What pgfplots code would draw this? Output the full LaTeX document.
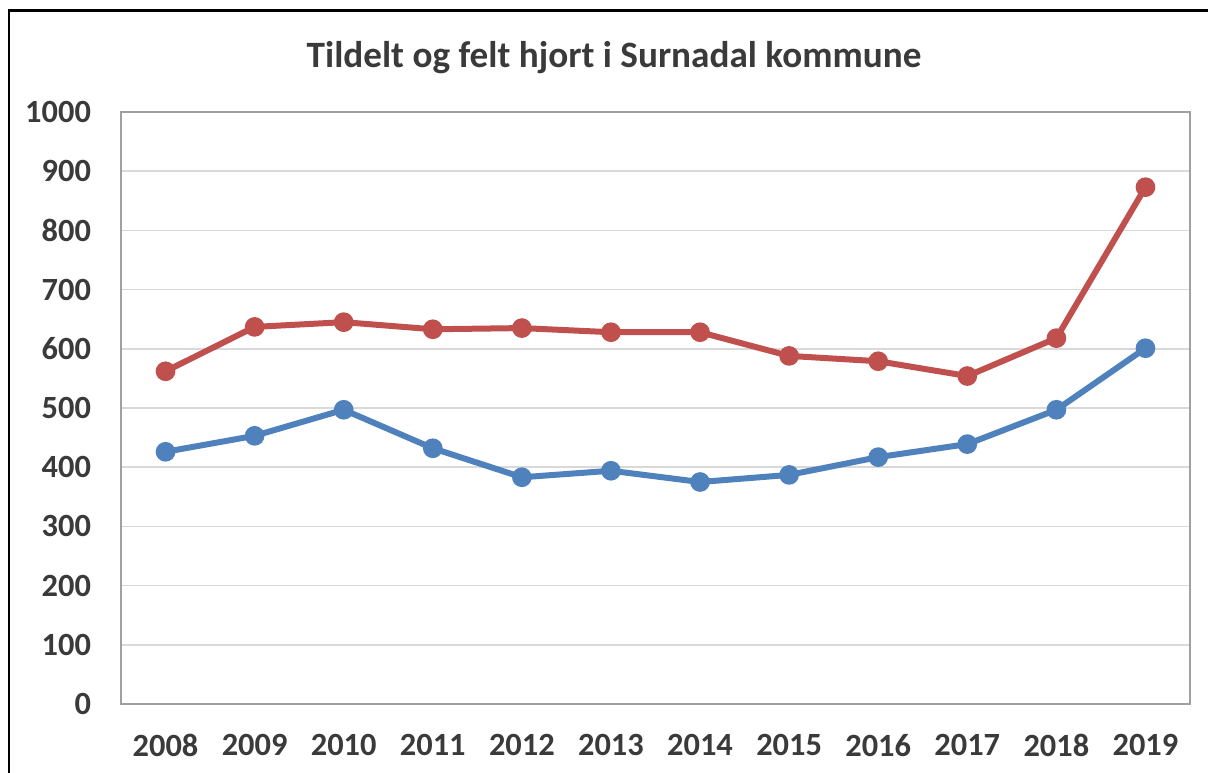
\documentclass[border=0pt]{standalone}
\usepackage{pgfplots}
\pgfplotsset{compat=1.18}
\usepackage{fontspec}
\setmainfont{Carlito}
\definecolor{txt}{HTML}{3A3A3A}
\definecolor{redl}{HTML}{C0504D}
\definecolor{bluel}{HTML}{4F81BD}
\definecolor{gridc}{HTML}{D9D9D9}
\definecolor{boxc}{HTML}{A0A0A0}
\begin{document}
\begin{tikzpicture}[x=0.5pt,y=0.5pt]
\path[use as bounding box] (0,0) rectangle (1208,772);
\clip (0,0) rectangle (1208,772);
\draw[black, line width=1.1pt] (9,-20) -- (9,761.5) -- (1230,761.5);
\node[font=\bfseries\fontsize{18.6}{22}\selectfont, text=txt] at (614,714) {Tildelt og felt hjort i Surnadal kommune};
\begin{axis}[
  at={(60.5pt,34pt)}, anchor=south west,
  scale only axis, width=534.5pt, height=296pt,
  xmin=-0.5, xmax=11.5, ymin=0, ymax=1000,
  xtick={0,...,11},
  xticklabels={2008,2009,2010,2011,2012,2013,2014,2015,2016,2017,2018,2019},
  ytick={0,100,...,1000},
  ymajorgrids, grid style={gridc, line width=0.8pt},
  major tick length=0pt,
  axis line style={boxc, line width=0.9pt},
  /pgf/number format/assume math mode=true,
  /pgf/number format/1000 sep={},
  ticklabel style={font=\bfseries\fontsize{16.2}{19}\selectfont, text=txt},
  yticklabel style={xshift=-11.5pt},
  xticklabel style={yshift=-11.5pt},
  clip=false,
]
\addplot[redl, line width=3pt, mark=*, mark size=3.4pt, mark options={solid, fill=redl, draw=redl}]
 coordinates {(0,562)(1,637)(2,645)(3,633)(4,635)(5,628)(6,628)(7,588)(8,579)(9,554)(10,618)(11,873)};
\addplot[bluel, line width=3pt, mark=*, mark size=3.4pt, mark options={solid, fill=bluel, draw=bluel}]
 coordinates {(0,426)(1,453)(2,497)(3,432)(4,383)(5,394)(6,375)(7,387)(8,417)(9,439)(10,497)(11,601)};
\end{axis}
\end{tikzpicture}
\end{document}
